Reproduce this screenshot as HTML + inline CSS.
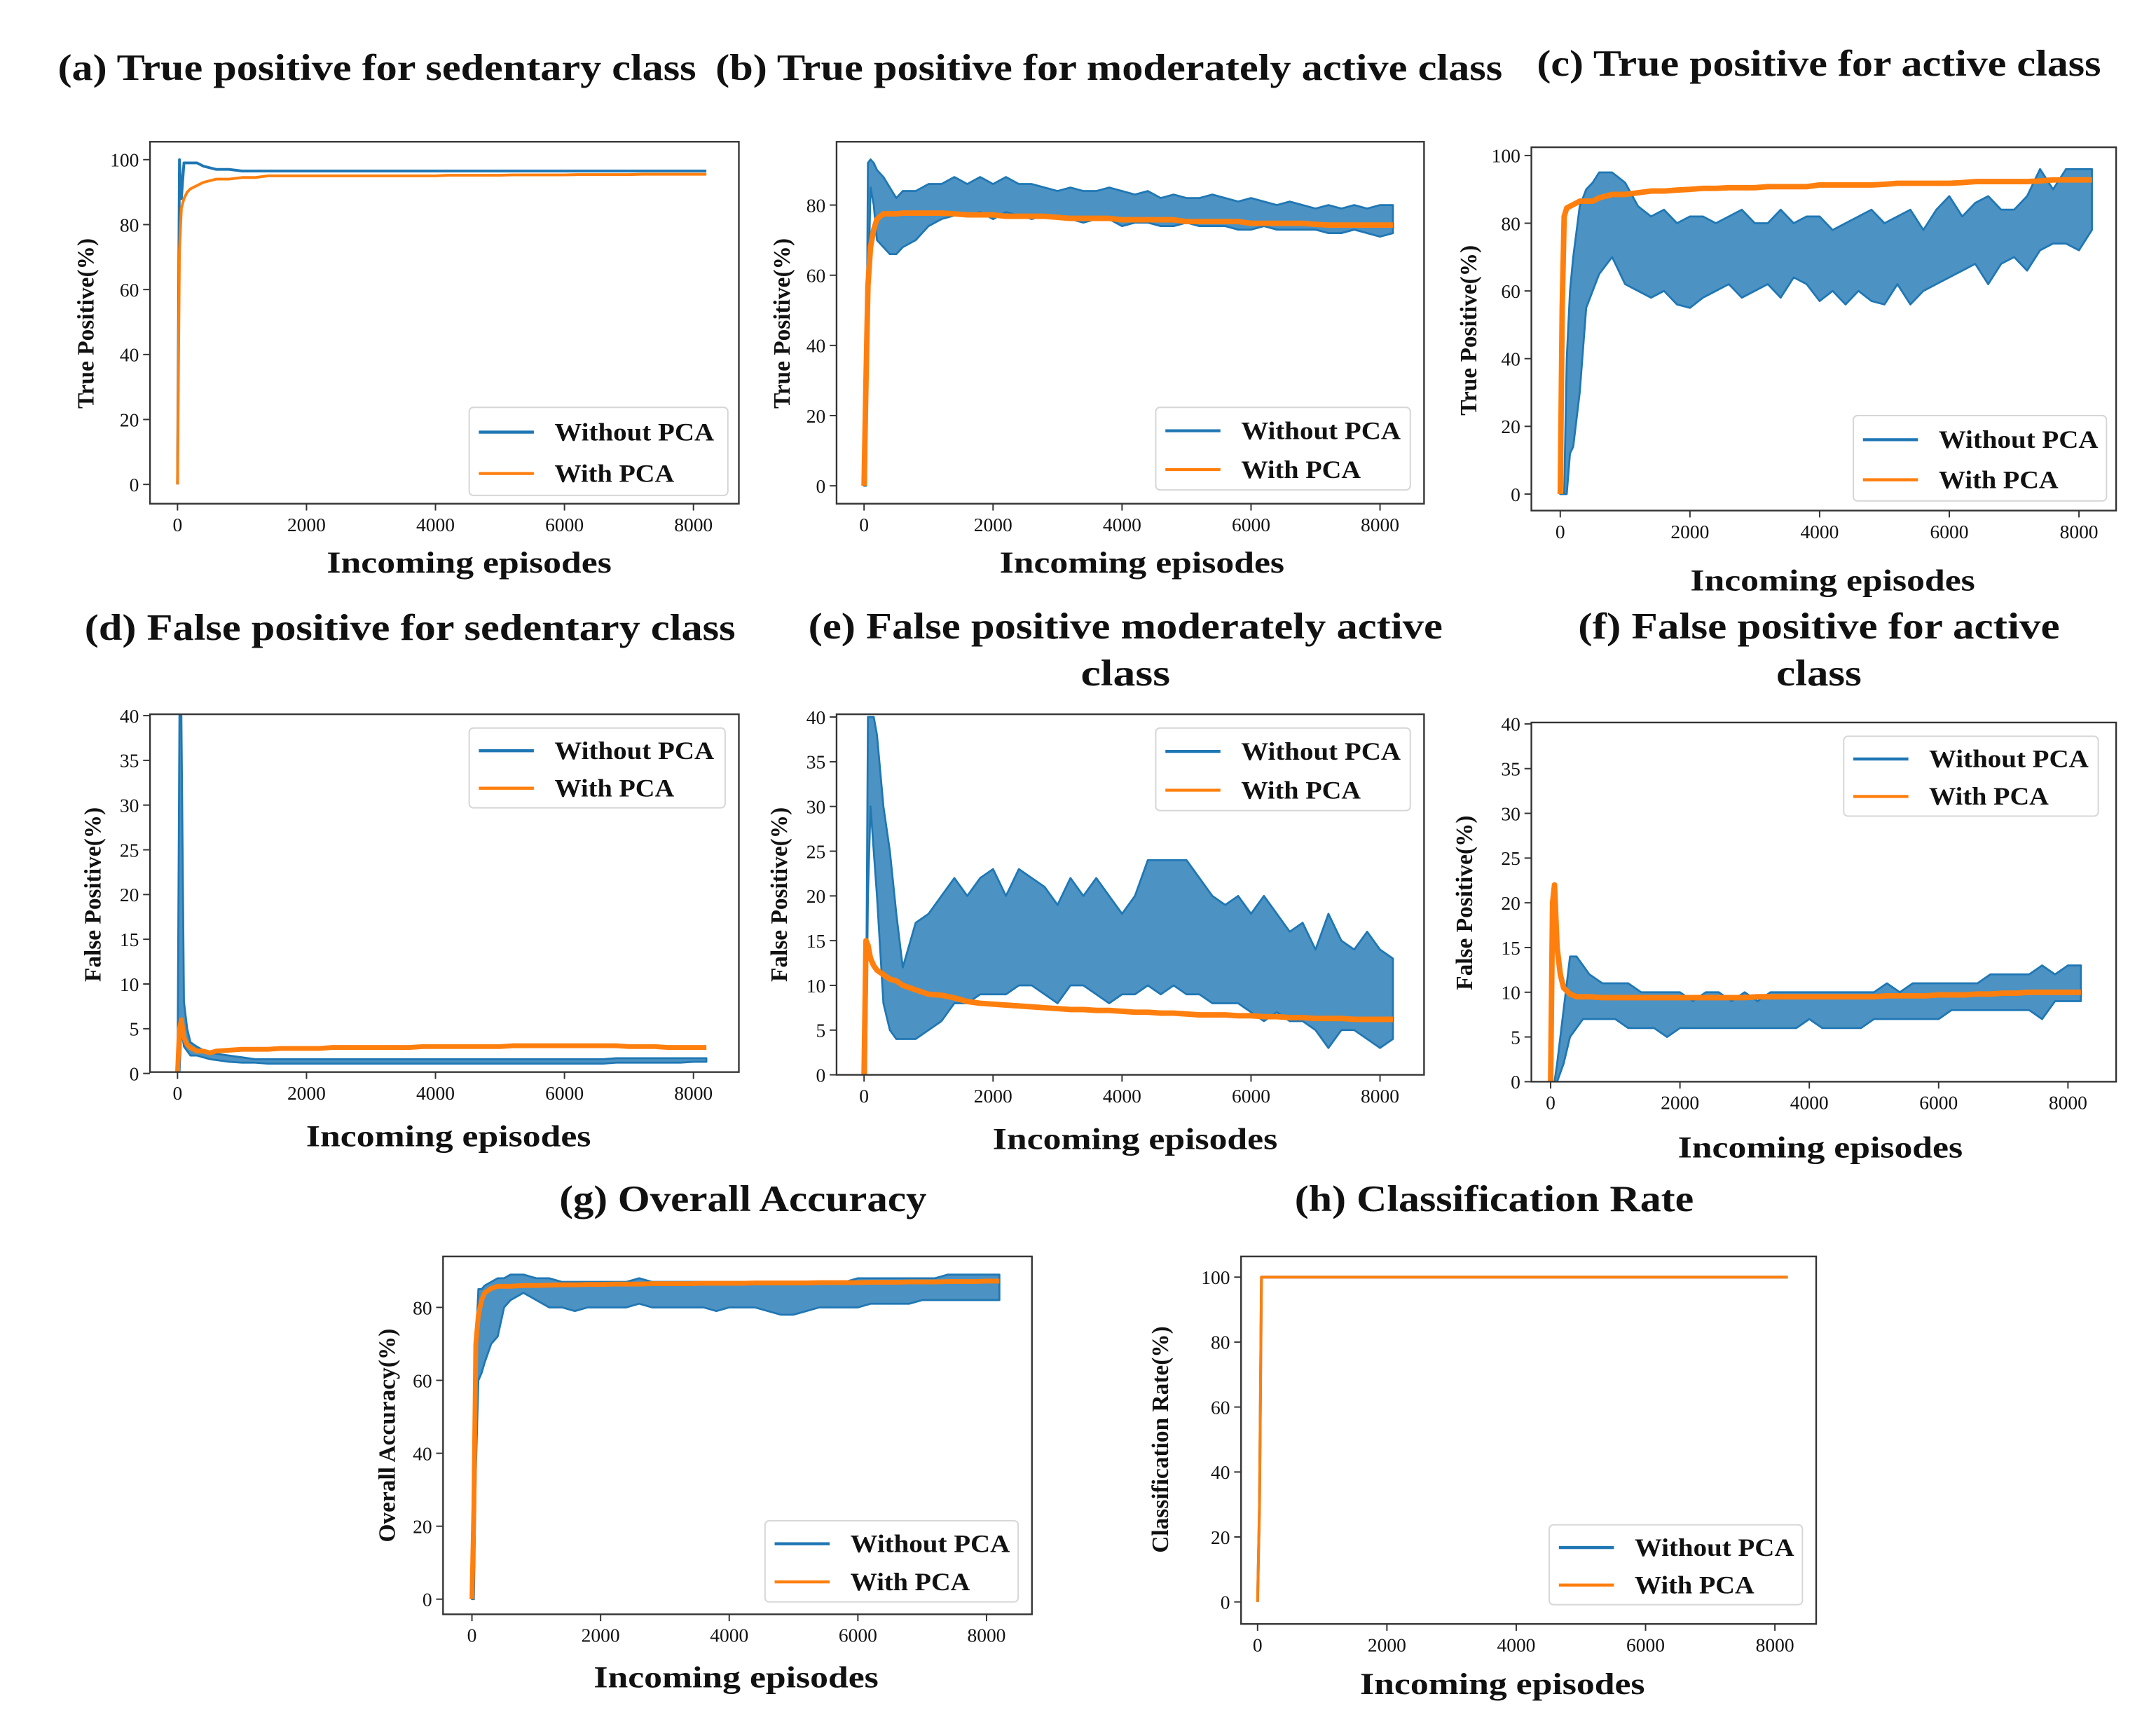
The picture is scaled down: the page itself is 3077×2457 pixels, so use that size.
<!DOCTYPE html>
<html><head><meta charset="utf-8">
<style>
html,body{margin:0;padding:0;background:#fff;}
svg{display:block;}
text{font-family:"Liberation Serif",serif;fill:#111;}
</style></head>
<body>
<svg xmlns="http://www.w3.org/2000/svg" width="3077" height="2457" viewBox="0 0 1556 1242.5">
<rect x="0" y="0" width="1556" height="1242.5" fill="#fff"/>
<g id="fig" transform="scale(0.993)"></g>
</svg>
<script>
const EP = [0,30,60,100,150,200,300,400,500,600,800,1000,1200,1400,1600,1800,2000,2200,2400,2600,2800,3000,3200,3400,3600,3800,4000,4200,4400,4600,4800,5000,5200,5400,5600,5800,6000,6200,6400,6600,6800,7000,7200,7400,7600,7800,8000,8200];
const xTicks = [0,2000,4000,6000,8000];
const yTicksTP = [0,20,40,60,80,100];
const yTicksTPb = [0,20,40,60,80];
const yTicksFP = [0,5,10,15,20,25,30,35,40];
const seriesNames = ["Without PCA","With PCA"];

// (a)
const a_blue = [0,100,88,99,99,99,99,98,97.5,97,97,96.5,96.5,96.5,96.5,96.5,96.5,96.5,96.5,96.5,96.5,96.5,96.5,96.5,96.5,96.5,96.5,96.5,96.5,96.5,96.5,96.5,96.5,96.5,96.5,96.5,96.5,96.5,96.5,96.5,96.5,96.5,96.5,96.5,96.5,96.5,96.5,96.5];
const a_orange = [0,72,85,88,90,91,92,93,93.5,94,94,94.5,94.5,95,95,95,95,95,95,95,95,95,95,95,95,95,95,95.2,95.2,95.2,95.2,95.2,95.3,95.3,95.3,95.3,95.3,95.4,95.4,95.4,95.4,95.4,95.5,95.5,95.5,95.5,95.5,95.5];
// (b)
const b_blue_lo = [0,0,50,85,80,70,68,66,66,68,70,74,76,77,77,78,76,78,77,76,77,76,76,75,76,76,74,75,75,74,74,75,74,74,74,73,73,74,73,73,73,73,72,72,73,72,71,72];
const b_blue_hi = [0,10,92,93,92,90,88,85,82,84,84,86,86,88,86,88,86,88,86,86,85,84,85,84,84,85,84,83,84,82,83,82,82,83,82,81,82,81,80,81,80,79,80,79,80,79,80,80];
const b_orange = [0,30,57,68,73,76,77.5,77.5,77.5,77.7,77.7,77.7,77.7,77.5,77.2,77.2,77.2,76.8,76.8,76.8,76.8,76.5,76.2,76.2,76.2,76.2,75.8,75.8,75.8,75.8,75.8,75.3,75.3,75.3,75.3,75.3,74.8,74.8,74.8,74.8,74.8,74.5,74.3,74.3,74.3,74.3,74.3,74.3];
// (c)
const c_blue_lo = [0,0,0,0,12,14,30,55,60,65,70,62,60,58,60,56,55,58,60,62,58,60,62,58,64,62,57,60,56,60,57,56,62,56,60,62,64,66,68,62,68,70,66,72,74,74,72,78];
const c_blue_hi = [0,0,0,40,60,70,85,90,92,95,95,92,85,82,84,80,82,82,80,82,84,80,80,84,80,82,82,78,80,82,84,80,82,84,78,84,88,82,86,88,84,84,88,96,90,96,96,96];
const c_orange = [0,55,82,84.5,85,85.5,86.5,86.5,86.5,87.5,88.5,88.5,89,89.5,89.5,89.8,90,90.3,90.3,90.5,90.5,90.5,90.8,90.8,90.8,90.8,91.3,91.3,91.3,91.3,91.3,91.5,91.8,91.8,91.8,91.8,91.8,92,92.3,92.3,92.3,92.3,92.3,92.5,92.8,92.8,92.8,92.8];
// (d)
const d_blue_lo = [0,0,5,3,2.5,2,2,1.8,1.6,1.5,1.3,1.2,1.2,1.1,1.1,1.1,1.1,1.1,1.1,1.1,1.1,1.1,1.1,1.1,1.1,1.1,1.1,1.1,1.1,1.1,1.1,1.1,1.1,1.1,1.1,1.1,1.1,1.1,1.1,1.1,1.2,1.2,1.2,1.2,1.2,1.2,1.3,1.3];
const d_blue_hi = [0,40,40,8,5,3.5,3,2.6,2.4,2.2,2,1.8,1.6,1.6,1.6,1.6,1.6,1.6,1.6,1.6,1.6,1.6,1.6,1.6,1.6,1.6,1.6,1.6,1.6,1.6,1.6,1.6,1.6,1.6,1.6,1.6,1.6,1.6,1.6,1.6,1.7,1.7,1.7,1.7,1.7,1.7,1.7,1.7];
const d_orange = [0,5,6,4,3.2,2.9,2.5,2.5,2.3,2.5,2.6,2.7,2.7,2.7,2.8,2.8,2.8,2.8,2.9,2.9,2.9,2.9,2.9,2.9,2.9,3,3,3,3,3,3,3,3.1,3.1,3.1,3.1,3.1,3.1,3.1,3.1,3.1,3,3,3,2.9,2.9,2.9,2.9];
// (e)
const e_blue_lo = [0,0,20,30,25,20,8,5,4,4,4,5,6,8,8,9,9,9,10,10,9,8,10,10,9,8,9,9,10,9,10,9,9,8,8,8,7,6,7,6,6,5,3,5,5,4,3,4];
const e_blue_hi = [0,5,40,40,40,38,30,25,18,12,17,18,20,22,20,22,23,20,23,22,21,19,22,20,22,20,18,20,24,24,24,24,22,20,19,20,18,20,18,16,17,14,18,15,14,16,14,13];
const e_orange = [0,15,14.5,13,12.2,11.7,11.2,10.7,10.5,10,9.5,9,8.9,8.6,8.2,8,7.9,7.8,7.7,7.6,7.5,7.4,7.3,7.3,7.2,7.2,7.1,7,7,6.9,6.9,6.8,6.7,6.7,6.7,6.6,6.6,6.5,6.5,6.4,6.4,6.3,6.3,6.3,6.2,6.2,6.2,6.2];
// (f)
const f_blue_lo = [0,0,0,0,1,2,5,6,7,7,7,7,6,6,6,5,6,6,6,6,6,6,6,6,6,6,7,6,6,6,6,7,7,7,7,7,7,8,8,8,8,8,8,8,7,9,9,9];
const f_blue_hi = [0,0,0,2,5,8,14,14,13,12,11,11,11,10,10,10,10,9,10,10,9,10,9,10,10,10,10,10,10,10,10,10,11,10,11,11,11,11,11,11,12,12,12,12,13,12,13,13];
const f_orange = [0,20,22,15,12,10.5,9.8,9.5,9.5,9.5,9.4,9.4,9.4,9.4,9.4,9.4,9.4,9.4,9.4,9.4,9.4,9.4,9.5,9.5,9.5,9.5,9.5,9.5,9.5,9.5,9.5,9.5,9.6,9.6,9.6,9.6,9.7,9.7,9.7,9.8,9.8,9.9,9.9,10,10,10,10,10];
// (g)
const g_blue_lo = [0,0,35,60,62,65,70,72,80,82,84,82,80,80,79,80,80,80,80,81,80,80,80,80,80,79,80,80,80,79,78,78,79,80,80,80,80,81,81,81,81,82,82,82,82,82,82,82];
const g_blue_hi = [0,20,70,85,85,86,87,88,88,89,89,88,88,87,87,87,87,87,87,88,87,87,87,87,87,87,87,87,87,87,87,87,87,87,87,87,88,88,88,88,88,88,88,89,89,89,89,89];
const g_orange = [0,25,70,78,82,84,85.2,85.8,85.8,85.8,86,86,86.1,86.2,86.2,86.3,86.3,86.4,86.4,86.4,86.5,86.5,86.5,86.5,86.6,86.6,86.6,86.6,86.7,86.7,86.7,86.7,86.7,86.8,86.8,86.8,86.8,86.9,86.9,86.9,87,87,87,87.1,87.1,87.1,87.2,87.2];
// (h)
const h_blue = [0,30,100,100,100,100,100,100,100,100,100,100,100,100,100,100,100,100,100,100,100,100,100,100,100,100,100,100,100,100,100,100,100,100,100,100,100,100,100,100,100,100,100,100,100,100,100,100];
const h_orange = [0,30,100,100,100,100,100,100,100,100,100,100,100,100,100,100,100,100,100,100,100,100,100,100,100,100,100,100,100,100,100,100,100,100,100,100,100,100,100,100,100,100,100,100,100,100,100,100];

const NS = "http://www.w3.org/2000/svg";
const svg = document.getElementById("fig");
const BLUE = "#1f77b4", ORANGE = "#ff7f0e";
function mk(tag, attrs, parent){
  const e = document.createElementNS(NS, tag);
  for (const k in attrs) e.setAttribute(k, attrs[k]);
  (parent||svg).appendChild(e);
  return e;
}

const panels = [
 {id:"a", box:[109,103,537,366], xm:[129,504], ym:[0,352,100,116], yt:yTicksTP, title:["(a) True positive for sedentary class"], tw:[464], tx:274, ty:[58], xl:[341,416], yl:[68,235,"True Positive(%)"], leg:[341,296,188,64],
  blue:{v:a_blue,w:2}, orange:{v:a_orange,w:2}},
 {id:"b", box:[608,103,1035,366], xm:[628,1003], ym:[0,353,80,149], yt:yTicksTPb, title:["(b) True positive for moderately active class"], tw:[572], tx:806, ty:[58], xl:[830,416], yl:[574,235,"True Positive(%)"], leg:[840,296,185,60],
  blue:{lo:b_blue_lo,hi:b_blue_hi}, orange:{v:b_orange,w:4}},
 {id:"c", box:[1113,107,1538,371], xm:[1134,1511], ym:[0,359,100,113], yt:yTicksTP, title:["(c) True positive for active class"], tw:[410], tx:1322, ty:[55], xl:[1332,429], yl:[1073,240,"True Positive(%)"], leg:[1347,302,184,62],
  blue:{lo:c_blue_lo,hi:c_blue_hi}, orange:{v:c_orange,w:4}},
 {id:"d", box:[109,519,537,779], xm:[129,504], ym:[0,780,40,520], yt:yTicksFP, title:["(d) False positive for sedentary class"], tw:[473], tx:298, ty:[465], xl:[326,833], yl:[73,650,"False Positive(%)"], leg:[341,529,186,58],
  blue:{lo:d_blue_lo,hi:d_blue_hi}, orange:{v:d_orange,w:3.5}},
 {id:"e", box:[608,519,1035,781], xm:[628,1003], ym:[0,781,40,521], yt:yTicksFP, title:["(e) False positive moderately active","class"], tw:[461,65], tx:818, ty:[464,498], xl:[825,835], yl:[572,650,"False Positive(%)"], leg:[840,529,185,60],
  blue:{lo:e_blue_lo,hi:e_blue_hi}, orange:{v:e_orange,w:4}},
 {id:"f", box:[1113,525,1538,786], xm:[1127,1503], ym:[0,786,40,526], yt:yTicksFP, title:["(f) False positive for active","class"], tw:[350,62], tx:1322, ty:[464,498], xl:[1323,841], yl:[1070,656,"False Positive(%)"], leg:[1340,535,185,58],
  blue:{lo:f_blue_lo,hi:f_blue_hi}, orange:{v:f_orange,w:4}},
 {id:"g", box:[322,913,750,1173], xm:[343,717], ym:[0,1162,80,950], yt:yTicksTPb, title:["(g) Overall Accuracy"], tw:[267], tx:540, ty:[880], xl:[535,1226], yl:[287,1043,"Overall Accuracy(%)"], leg:[556,1105,184,59],
  blue:{lo:g_blue_lo,hi:g_blue_hi}, orange:{v:g_orange,w:3.5}},
 {id:"h", box:[902,913,1320,1180], xm:[914,1290], ym:[0,1164,100,928], yt:yTicksTP, title:["(h) Classification Rate"], tw:[290], tx:1086, ty:[880], xl:[1092,1231], yl:[849,1046,"Classification Rate(%)"], leg:[1126,1108,184,58],
  blue:{v:h_blue,w:2}, orange:{v:h_orange,w:2}}
];

panels.forEach(p => {
  const g = mk("g", {});
  
  
  const [x0,y0,x1,y1] = p.box;
  const X = v => p.xm[0] + (p.xm[1]-p.xm[0]) * v / 8000;
  const Y = v => p.ym[1] + (p.ym[3]-p.ym[1]) * (v - p.ym[0]) / (p.ym[2]-p.ym[0]);

  p.title.forEach((line,i) => {
    const t = mk("text", {x:p.tx, y:p.ty[i], "text-anchor":"middle", "font-size":"27", "font-weight":"bold", textLength:p.tw[i], lengthAdjust:"spacingAndGlyphs"}, g);
    
    
    t.textContent = line;
  });

  const cp = mk("clipPath", {id:"clip-"+p.id}, g);
  mk("rect", {x:x0, y:y0, width:x1-x0, height:y1-y0}, cp);

  const plot = mk("g", {"clip-path":"url(#clip-"+p.id+")"}, g);
  [["blue",BLUE],["orange",ORANGE]].forEach(([key,col]) => {
    const s = p[key];
    if (s.v) {
      const pts = EP.map((e,i) => X(e).toFixed(2)+","+Y(s.v[i]).toFixed(2)).join(" ");
      const pl = mk("polyline", {points:pts, fill:"none", stroke:col, "stroke-width":s.w, "stroke-linejoin":"round"}, plot);
      
      
    } else {
      const up = EP.map((e,i) => X(e).toFixed(2)+","+Y(s.hi[i]).toFixed(2));
      const dn = EP.map((e,i) => X(e).toFixed(2)+","+Y(s.lo[i]).toFixed(2)).reverse();
      const pg = mk("polygon", {points:up.concat(dn).join(" "), fill:col, stroke:col, "stroke-width":"1.4", "stroke-linejoin":"round", "fill-opacity":"0.8"}, plot);
      
      
    }
  });

  const fr = mk("rect", {x:x0, y:y0, width:x1-x0, height:y1-y0, fill:"none", stroke:"#333", "stroke-width":"1.2"}, g);
  
  

  xTicks.forEach(v => {
    const xx = X(v);
    const tk = mk("line", {x1:xx, y1:y1, x2:xx, y2:y1+5, stroke:"#333", "stroke-width":"1"}, g);
    
    
    const tl = mk("text", {x:xx, y:y1+20, "text-anchor":"middle", "font-size":"14"}, g);
    
    
    tl.textContent = v;
  });
  p.yt.forEach(v => {
    const yy = Y(v);
    const tk = mk("line", {x1:x0-5, y1:yy, x2:x0, y2:yy, stroke:"#333", "stroke-width":"1"}, g);
    
    
    const tl = mk("text", {x:x0-8, y:yy+5, "text-anchor":"end", "font-size":"14"}, g);
    
    
    tl.textContent = v;
  });

  const xl = mk("text", {x:p.xl[0], y:p.xl[1], "text-anchor":"middle", "font-size":"22", "font-weight":"bold", textLength:"207", lengthAdjust:"spacingAndGlyphs"}, g);
  
  
  xl.textContent = "Incoming episodes";
  const yl = mk("text", {x:p.yl[0], y:p.yl[1], "text-anchor":"middle", "font-size":"17", "font-weight":"bold", transform:"rotate(-90 "+p.yl[0]+" "+p.yl[1]+")"}, g);
  
  
  yl.textContent = p.yl[2];

  const [lx,ly,lw,lh] = p.leg;
  const lg = mk("g", {}, g);
  
  
  mk("rect", {x:lx, y:ly, width:lw, height:lh, rx:3, fill:"#fff", "fill-opacity":"0.9", stroke:"#d6d6d6", "stroke-width":"1"}, lg);
  [BLUE, ORANGE].forEach((col,i) => {
    const cy = ly + lh*0.25 + i*lh*0.47 + 2;
    const entry = mk("g", {}, lg);
    
    
    mk("line", {x1:lx+7, y1:cy, x2:lx+47, y2:cy, stroke:col, "stroke-width":"2.2"}, entry);
    const tx = mk("text", {x:lx+62, y:cy+6, "font-size":"18.5", "font-weight":"bold", textLength: i===0 ? "116" : "87", lengthAdjust:"spacingAndGlyphs"}, entry);
    tx.textContent = seriesNames[i];
  });
});
</script>
</body></html>
